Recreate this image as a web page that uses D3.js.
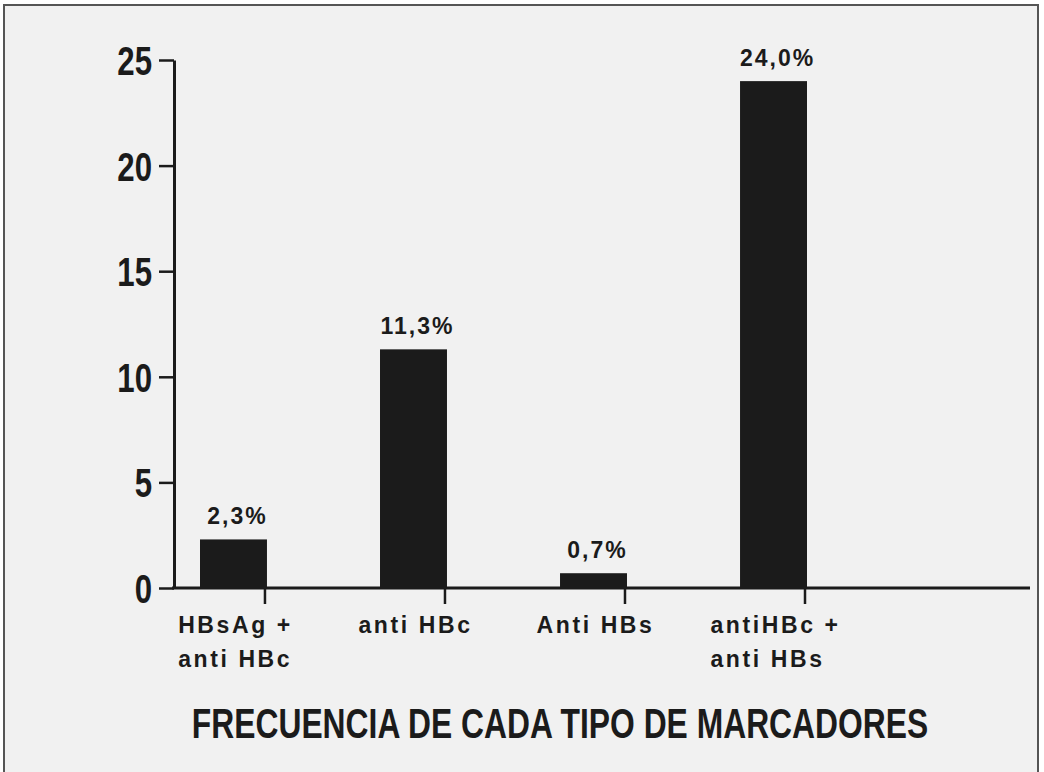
<!DOCTYPE html>
<html>
<head>
<meta charset="utf-8">
<script src="https://cdn.jsdelivr.net/npm/d3@7"></script>
<style>
  html, body { margin: 0; padding: 0; background: #ffffff; }
  svg { display: block; }
</style>
</head>
<body>
<svg id="chart" width="1044" height="772"></svg>
<script>
// data
var categories = ["HBsAg +|anti HBc", "anti HBc", "Anti HBs", "antiHBc +|anti HBs"];
var values = [2.3, 11.3, 0.7, 24.0];
var valueLabels = ["2,3%", "11,3%", "0,7%", "24,0%"];
var yTicks = [0, 5, 10, 15, 20, 25];
var title = "FRECUENCIA DE CADA TIPO DE MARCADORES";

var svg = d3.select("#chart"),
    ink = "#1b1b1b",
    font = "'Liberation Sans', Arial, Helvetica, sans-serif";

// paper + frame
svg.append("rect")
    .attr("x", 4).attr("y", 5)
    .attr("width", 1034).attr("height", 772)
    .attr("fill", "#f1f1f1")
    .attr("stroke", "#555")
    .attr("stroke-width", 2);

var x = d3.scaleBand()
    .domain(categories)
    .range([200, 807])
    .paddingInner(0.628)
    .paddingOuter(0);

var y = d3.scaleLinear()
    .domain([0, 25])
    .range([588, 60]);

var axisX = 174;

// y axis
var gy = svg.append("g")
    .attr("transform", "translate(" + axisX + ",0)")
    .call(d3.axisLeft(y).tickValues(yTicks).tickSize(15).tickSizeOuter(0).tickPadding(7));

gy.select(".domain").attr("stroke", ink).attr("stroke-width", 3);
gy.selectAll(".tick line").attr("stroke", ink).attr("stroke-width", 2.5);
// condensed look: squeeze the glyphs horizontally
gy.selectAll(".tick text")
    .attr("fill", ink)
    .attr("dy", "0.36em")
    .attr("x", null)
    .attr("text-anchor", "end")
    .attr("transform", "translate(-22,0) scale(0.78,1)")
    .style("font-family", font)
    .style("font-weight", "bold")
    .style("font-size", "40px");

// x axis line
svg.append("line")
    .attr("x1", axisX - 2).attr("x2", 1030)
    .attr("y1", y(0)).attr("y2", y(0))
    .attr("stroke", ink)
    .attr("stroke-width", 3);

// bars
svg.selectAll(".bar")
    .data(values)
    .enter().append("rect")
    .attr("class", "bar")
    .attr("x", function (d, i) { return x(categories[i]); })
    .attr("y", function (d) { return y(d); })
    .attr("width", x.bandwidth())
    .attr("height", function (d) { return y(0) - y(d); })
    .attr("fill", ink);

// x ticks sit at the right edge of each bar
svg.selectAll(".xtick")
    .data(categories)
    .enter().append("line")
    .attr("class", "xtick")
    .attr("x1", function (d) { return x(d) + x.bandwidth() - 2; })
    .attr("x2", function (d) { return x(d) + x.bandwidth() - 2; })
    .attr("y1", y(0))
    .attr("y2", y(0) + 16)
    .attr("stroke", ink)
    .attr("stroke-width", 2.5);

// value labels
svg.selectAll(".val")
    .data(values)
    .enter().append("text")
    .attr("class", "val")
    .attr("x", function (d, i) { return x(categories[i]) + x.bandwidth() / 2 + 4; })
    .attr("y", function (d) { return y(d) - 15; })
    .attr("text-anchor", "middle")
    .attr("fill", ink)
    .style("font-family", font)
    .style("font-weight", "bold")
    .style("font-size", "23px")
    .style("letter-spacing", "2px")
    .text(function (d, i) { return valueLabels[i]; });

// category labels (two-line ones are left aligned to the first line)
categories.forEach(function (c) {
    var lines = c.split("|");
    var cx = x(c) + x.bandwidth() / 2 + 2;
    var t = svg.append("text")
        .attr("fill", ink)
        .style("font-family", font)
        .style("font-weight", "bold")
        .style("font-size", "23px")
        .style("letter-spacing", "2.6px");
    t.append("tspan").attr("y", 633).text(lines[0]);
    var w = t.node().getComputedTextLength();
    var left = cx - w / 2;
    t.select("tspan").attr("x", left);
    if (lines[1]) {
        t.append("tspan").attr("x", left).attr("y", 667).text(lines[1]);
    }
});

// title, squeezed to a condensed width
svg.append("text")
    .attr("transform", "translate(560,738) scale(0.74,1)")
    .attr("text-anchor", "middle")
    .attr("fill", ink)
    .style("font-family", font)
    .style("font-weight", "bold")
    .style("font-size", "43px")
    .text(title);
</script>
</body>
</html>
